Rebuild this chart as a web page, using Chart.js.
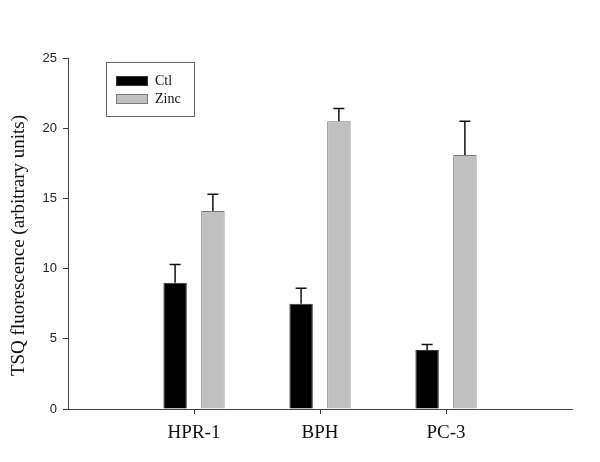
<!DOCTYPE html>
<html>
<head>
<meta charset="utf-8">
<script src="https://cdn.jsdelivr.net/npm/chart.js@4"></script>
<style>
  html, body { margin: 0; padding: 0; background: #fff; }
  #wrap { width: 600px; height: 462px; position: relative; }
</style>
</head>
<body>
<div id="wrap"><canvas id="c" width="600" height="462"></canvas></div>
<script>
// ---- data ----
const categories = ['', 'HPR-1', 'BPH', 'PC-3', ''];
const seriesNames = ['Ctl', 'Zinc'];
const ctlValues = [null, 9.0, 7.5, 4.2, null];
const ctlErrors = [null, 1.3, 1.1, 0.4, null];
const zincValues = [null, 14.1, 20.5, 18.1, null];
const zincErrors = [null, 1.2, 0.9, 2.4, null];
const yTicks = [0, 5, 10, 15, 20, 25];
const yTitle = 'TSQ fluorescence (arbitrary units)';

const errorBarPlugin = {
  id: 'errorBars',
  afterDatasetsDraw(chart) {
    const ctx = chart.ctx;
    const yScale = chart.scales.y;
    chart.data.datasets.forEach((ds, di) => {
      const meta = chart.getDatasetMeta(di);
      meta.data.forEach((bar, i) => {
        const v = ds.data[i];
        const e = ds.errors ? ds.errors[i] : null;
        if (v == null || e == null) return;
        const x = bar.x;
        const yTop = yScale.getPixelForValue(v + e);
        const yBase = yScale.getPixelForValue(v);
        ctx.save();
        ctx.strokeStyle = '#111';
        ctx.lineWidth = 1.5;
        ctx.beginPath();
        ctx.moveTo(x, yBase);
        ctx.lineTo(x, yTop);
        ctx.moveTo(x - 5.5, yTop);
        ctx.lineTo(x + 5.5, yTop);
        ctx.stroke();
        ctx.restore();
      });
    });
  }
};

const legendBoxPlugin = {
  id: 'legendBox',
  afterDraw(chart) {
    const ctx = chart.ctx;
    ctx.save();
    ctx.strokeStyle = '#666';
    ctx.lineWidth = 1;
    ctx.strokeRect(106.5, 62.5, 88, 54);
    chart.data.datasets.forEach((ds, i) => {
      const y = 76 + i * 18;
      ctx.fillStyle = ds.backgroundColor;
      ctx.fillRect(116, y, 32, 10);
      ctx.strokeStyle = ds.borderColor;
      ctx.strokeRect(116.5, y + 0.5, 31, 9);
      ctx.fillStyle = '#111';
      ctx.font = '14px "Liberation Serif", "Times New Roman", serif';
      ctx.textBaseline = 'middle';
      ctx.textAlign = 'left';
      ctx.fillText(ds.label, 155, y + 5);
    });
    ctx.restore();
  }
};

const yTitlePlugin = {
  id: 'yTitle',
  afterDraw(chart) {
    const ctx = chart.ctx;
    const area = chart.chartArea;
    ctx.save();
    ctx.translate(19, (area.top + area.bottom) / 2 + 12);
    ctx.rotate(-Math.PI / 2);
    ctx.fillStyle = '#111';
    ctx.font = '19px "Liberation Serif", "Times New Roman", serif';
    ctx.textAlign = 'center';
    ctx.textBaseline = 'middle';
    ctx.fillText(yTitle, 0, 0);
    ctx.restore();
  }
};

new Chart(document.getElementById('c'), {
  type: 'bar',
  data: {
    labels: categories,
    datasets: [
      {
        label: seriesNames[0],
        data: ctlValues,
        errors: ctlErrors,
        backgroundColor: '#000000',
        borderColor: '#333333',
        borderWidth: 1,
        barPercentage: 0.62,
        categoryPercentage: 0.6
      },
      {
        label: seriesNames[1],
        data: zincValues,
        errors: zincErrors,
        backgroundColor: '#c0c0c0',
        borderColor: '#7a7a7a',
        borderWidth: 1,
        barPercentage: 0.62,
        categoryPercentage: 0.6
      }
    ]
  },
  options: {
    responsive: false,
    animation: false,
    layout: { padding: { left: 8, top: 58, right: 28, bottom: 0 } },
    plugins: {
      legend: { display: false },
      tooltip: { enabled: false }
    },
    scales: {
      x: {
        offset: false,
        grid: {
          display: true,
          offset: false,
          drawOnChartArea: false,
          tickLength: 5,
          color: '#333',
          tickColor: (c) => (categories[c.index] ? '#333' : 'rgba(0,0,0,0)')
        },
        border: { display: true, color: '#444', width: 1 },
        ticks: {
          color: '#111',
          padding: 8,
          maxRotation: 0,
          autoSkip: false,
          font: { family: '"Liberation Serif", "Times New Roman", serif', size: 19 }
        },
        afterFit(scale) { scale.height = 53; }
      },
      y: {
        min: 0,
        max: 25,
        afterBuildTicks(scale) { scale.ticks = yTicks.map(v => ({ value: v })); },
        grid: { display: true, drawOnChartArea: false, tickLength: 5, color: '#333', tickColor: '#333' },
        border: { display: true, color: '#444', width: 1 },
        ticks: {
          color: '#222',
          padding: 6,
          font: { family: '"Liberation Sans", Arial, sans-serif', size: 13 }
        },
        afterFit(scale) { scale.width = 60; }
      }
    }
  },
  plugins: [errorBarPlugin, legendBoxPlugin, yTitlePlugin]
});
</script>
</body>
</html>
